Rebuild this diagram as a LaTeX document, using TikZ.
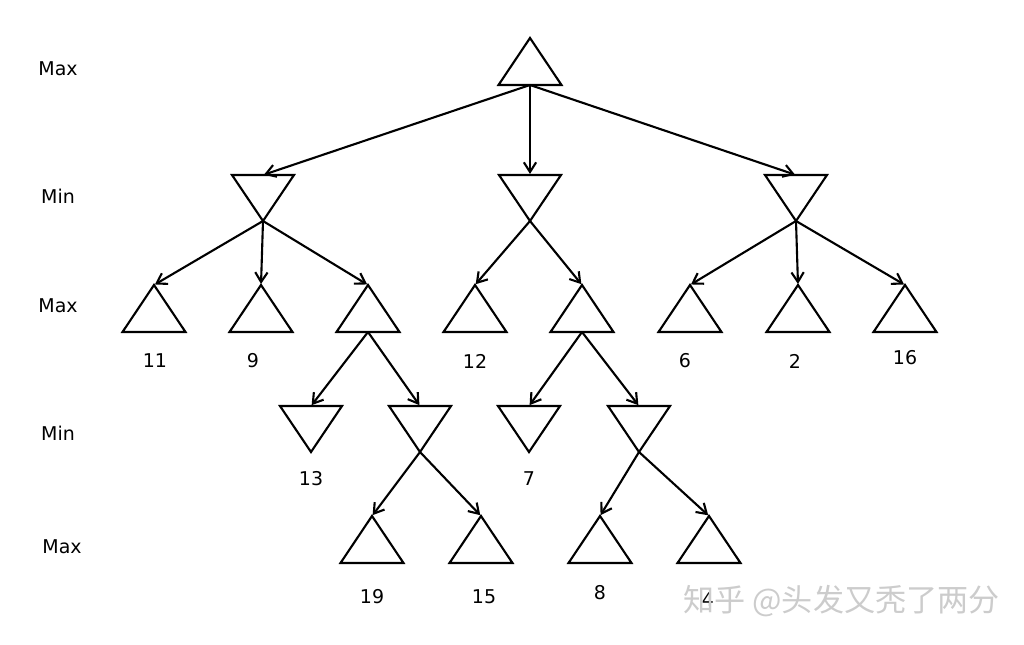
\documentclass[tikz,border=0pt]{standalone}
\usepackage{fontspec}
\setmainfont{DejaVu Sans}
\newfontfamily\cjkfont{Noto Sans CJK SC}
\usetikzlibrary{arrows.meta}
\tikzset{
  tri/.style={line width=1.2pt, line join=miter},
  conn/.style={line width=1.2pt, -{Straight Barb[length=5.5pt,width=7pt,line width=1.2pt]}, shorten >=0.6pt},
  lbl/.style={font=\fontsize{10.8}{12}\selectfont, inner sep=0pt},
  lvl/.style={font=\fontsize{10.8}{12}\selectfont, inner sep=0pt},
  wm/.style={font=\cjkfont\fontsize{17.7}{20}\selectfont, text=gray!40, inner sep=0pt}
}
\newcommand\MaxTri[3]{%
  \coordinate (#1-t) at (#2,#3);
  \coordinate (#1-b) at (#2,#3+47);
  \draw[tri] (#1-t) -- ++(31.5,47) -- ++(-63,0) -- cycle;}
\newcommand\MinTri[3]{%
  \coordinate (#1-t) at (#2,#3);
  \coordinate (#1-b) at (#2,#3+46);
  \draw[tri] (#1-t) ++(-31,0) -- ++(62,0) -- ++(-31,46) -- cycle;}
\begin{document}
\begin{tikzpicture}[x=0.02cm,y=-0.02cm]
\useasboundingbox (0,0) rectangle (1024,645);
% level labels
\node[lvl] (l0) at (58,69) {Max};
\node[lvl] (l1) at (58,196) {Min};
\node[lvl] (l2) at (58,306) {Max};
\node[lvl] (l3) at (58,433) {Min};
\node[lvl] (l4) at (62,547) {Max};
% triangles
\MaxTri{r}{530}{38}
\MinTri{a}{263}{175}
\MinTri{b}{530}{175}
\MinTri{c}{796}{175}
\MaxTri{a1}{154}{285}
\MaxTri{a2}{261}{285}
\MaxTri{a3}{368}{285}
\MaxTri{b1}{475}{285}
\MaxTri{b2}{582}{285}
\MaxTri{c1}{690}{285}
\MaxTri{c2}{798}{285}
\MaxTri{c3}{905}{285}
\MinTri{a31}{311}{406}
\MinTri{a32}{420}{406}
\MinTri{b21}{529}{406}
\MinTri{b22}{639}{406}
\MaxTri{d1}{372}{516}
\MaxTri{d2}{481}{516}
\MaxTri{d3}{600}{516}
\MaxTri{d4}{709}{516}
% connectors
\draw[conn] (r-b) -- (a-t);
\draw[conn] (r-b) -- (b-t);
\draw[conn] (r-b) -- (c-t);
\draw[conn] (a-b) -- (a1-t);
\draw[conn] (a-b) -- (a2-t);
\draw[conn] (a-b) -- (a3-t);
\draw[conn] (b-b) -- (b1-t);
\draw[conn] (b-b) -- (b2-t);
\draw[conn] (c-b) -- (c1-t);
\draw[conn] (c-b) -- (c2-t);
\draw[conn] (c-b) -- (c3-t);
\draw[conn] (a3-b) -- (a31-t);
\draw[conn] (a3-b) -- (a32-t);
\draw[conn] (b2-b) -- (b21-t);
\draw[conn] (b2-b) -- (b22-t);
\draw[conn] (a32-b) -- (d1-t);
\draw[conn] (a32-b) -- (d2-t);
\draw[conn] (b22-b) -- (d3-t);
\draw[conn] (b22-b) -- (d4-t);
% values
\node[lbl] (v11) at (155,361) {11};
\node[lbl] (v9) at (253,361) {9};
\node[lbl] (v12) at (475,361) {12};
\node[lbl] (v6) at (685,361) {6};
\node[lbl] (v2) at (795,361) {2};
\node[lbl] (v16) at (905,358) {16};
\node[lbl] (v13) at (311,479) {13};
\node[lbl] (v7) at (529,479) {7};
\node[lbl] (v19) at (372,597) {19};
\node[lbl] (v15) at (484,597) {15};
\node[lbl] (v8) at (600,593) {8};
\node[lbl] (v4) at (708,600) {4};
% watermark
\node[wm, anchor=west] (wm) at (683,601) {知乎 @头发又秃了两分};
\end{tikzpicture}
\end{document}
